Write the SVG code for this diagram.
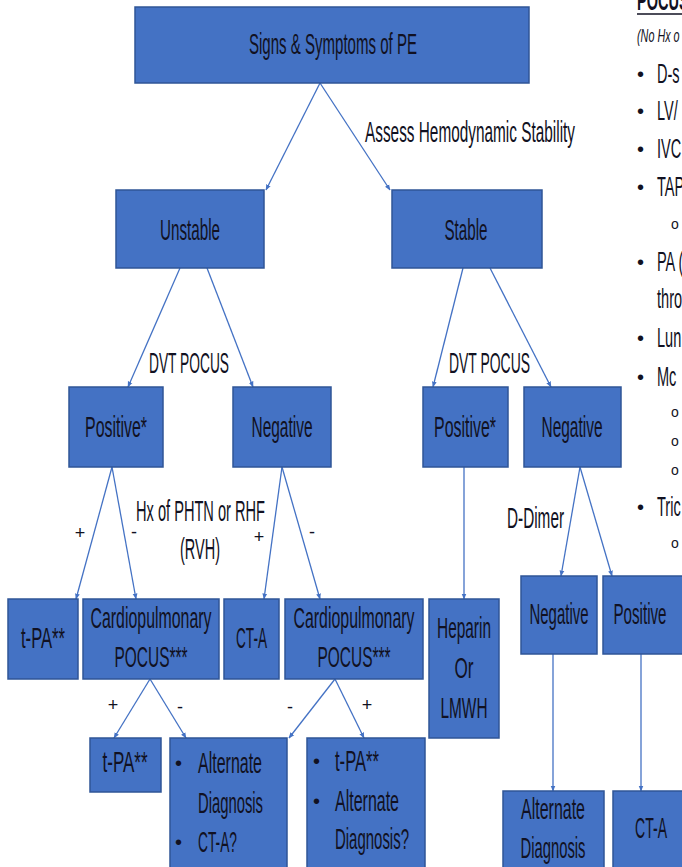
<svg xmlns="http://www.w3.org/2000/svg" width="682" height="867" viewBox="0 0 682 867">
<defs>
<style>
.box{fill:#4472C4;stroke:#2F5597;stroke-width:1.5}
.t{font-family:"Liberation Sans",Arial,sans-serif;font-size:30px;fill:#111122;text-anchor:middle}
.tl{font-family:"Liberation Sans",Arial,sans-serif;font-size:29px;fill:#111122;text-anchor:start}
.sm{font-family:"Liberation Sans",Arial,sans-serif;font-size:18px;fill:#111122;text-anchor:middle}
.rc{font-family:"Liberation Sans",Arial,sans-serif;font-size:28px;fill:#111122}
.it{font-family:"Liberation Sans",Arial,sans-serif;font-size:18px;font-style:italic;fill:#111122}
.bul{font-family:"Liberation Sans",Arial,sans-serif;font-size:20px;fill:#111122}
.sub{font-family:"Liberation Sans",Arial,sans-serif;font-size:14px;fill:#111122}
.c{stroke:#4472C4;stroke-width:1.3;fill:none;marker-end:url(#ah)}
</style>
<marker id="ah" viewBox="0 0 10 10" refX="9" refY="5" markerWidth="6" markerHeight="6" orient="auto" markerUnits="userSpaceOnUse">
<path d="M0,1 L10,5 L0,9 z" fill="#4472C4"/>
</marker>
</defs>
<rect width="682" height="867" fill="#ffffff"/>

<g id="connectors">
<line class="c" x1="320" y1="83" x2="266" y2="190"/>
<line class="c" x1="320" y1="83" x2="390" y2="190"/>
<line class="c" x1="180" y1="268" x2="128" y2="387"/>
<line class="c" x1="207" y1="268" x2="253" y2="387"/>
<line class="c" x1="463" y1="268" x2="433" y2="387"/>
<line class="c" x1="490" y1="268" x2="551" y2="387"/>
<line class="c" x1="112" y1="467" x2="76" y2="599"/>
<line class="c" x1="112" y1="467" x2="136" y2="599"/>
<line class="c" x1="282" y1="467" x2="264" y2="599"/>
<line class="c" x1="282" y1="467" x2="320" y2="599"/>
<line class="c" x1="464" y1="467" x2="464" y2="599"/>
<line class="c" x1="580" y1="467" x2="561" y2="576"/>
<line class="c" x1="580" y1="467" x2="612" y2="576"/>
<line class="c" x1="150" y1="679" x2="114" y2="738"/>
<line class="c" x1="150" y1="679" x2="186" y2="738"/>
<line class="c" x1="335" y1="679" x2="289" y2="738"/>
<line class="c" x1="335" y1="679" x2="364" y2="738"/>
<line class="c" x1="553" y1="654" x2="553" y2="791"/>
<line class="c" x1="641" y1="654" x2="641" y2="791"/>
</g>

<g id="labels">
<text class="tl" x="365" y="142" textLength="210" lengthAdjust="spacingAndGlyphs">Assess Hemodynamic Stability</text>
<text class="tl" x="149" y="373" textLength="80" lengthAdjust="spacingAndGlyphs">DVT POCUS</text>
<text class="tl" x="449" y="373" textLength="81" lengthAdjust="spacingAndGlyphs">DVT POCUS</text>
<text class="sm" x="80" y="539">+</text>
<text class="sm" x="134" y="538">-</text>
<text class="tl" x="136" y="521" textLength="129" lengthAdjust="spacingAndGlyphs">Hx of PHTN or RHF</text>
<text class="tl" x="180" y="559" textLength="40" lengthAdjust="spacingAndGlyphs">(RVH)</text>
<text class="sm" x="259" y="543">+</text>
<text class="sm" x="312" y="538">-</text>
<text class="tl" x="507" y="528" textLength="57" lengthAdjust="spacingAndGlyphs">D-Dimer</text>
<text class="sm" x="113" y="711">+</text>
<text class="sm" x="180" y="713">-</text>
<text class="sm" x="290" y="713">-</text>
<text class="sm" x="367" y="711">+</text>
</g>

<g id="n-top">
<rect class="box" x="135" y="7" width="394" height="76"/>
<text class="t" x="333" y="54" textLength="168" lengthAdjust="spacingAndGlyphs">Signs &amp; Symptoms of PE</text>
</g>
<g id="n-unstable">
<rect class="box" x="116" y="190" width="148" height="78"/>
<text class="t" x="190" y="240" textLength="60" lengthAdjust="spacingAndGlyphs">Unstable</text>
</g>
<g id="n-stable">
<rect class="box" x="392" y="190" width="150" height="78"/>
<text class="t" x="466" y="240" textLength="43" lengthAdjust="spacingAndGlyphs">Stable</text>
</g>
<g id="n-pos1">
<rect class="box" x="69" y="387" width="94" height="80"/>
<text class="t" x="116" y="437" textLength="62" lengthAdjust="spacingAndGlyphs">Positive*</text>
</g>
<g id="n-neg1">
<rect class="box" x="233" y="387" width="98" height="80"/>
<text class="t" x="282" y="437" textLength="61" lengthAdjust="spacingAndGlyphs">Negative</text>
</g>
<g id="n-pos2">
<rect class="box" x="423" y="387" width="85" height="80"/>
<text class="t" x="465" y="437" textLength="62" lengthAdjust="spacingAndGlyphs">Positive*</text>
</g>
<g id="n-neg2">
<rect class="box" x="524" y="387" width="97" height="80"/>
<text class="t" x="572" y="437" textLength="61" lengthAdjust="spacingAndGlyphs">Negative</text>
</g>
<g id="n-tpa1">
<rect class="box" x="8" y="599" width="70" height="80"/>
<text class="t" x="43" y="648" textLength="44" lengthAdjust="spacingAndGlyphs">t-PA**</text>
</g>
<g id="n-cardio1">
<rect class="box" x="83" y="599" width="136" height="80"/>
<text class="t" x="151" y="628" textLength="121" lengthAdjust="spacingAndGlyphs">Cardiopulmonary</text>
<text class="t" x="151" y="667" textLength="73" lengthAdjust="spacingAndGlyphs">POCUS***</text>
</g>
<g id="n-cta1">
<rect class="box" x="224" y="599" width="55" height="80"/>
<text class="t" x="251.5" y="648" textLength="31" lengthAdjust="spacingAndGlyphs">CT-A</text>
</g>
<g id="n-cardio2">
<rect class="box" x="285" y="599" width="138" height="80"/>
<text class="t" x="354" y="628" textLength="121" lengthAdjust="spacingAndGlyphs">Cardiopulmonary</text>
<text class="t" x="354" y="667" textLength="73" lengthAdjust="spacingAndGlyphs">POCUS***</text>
</g>
<g id="n-heparin">
<rect class="box" x="429" y="599" width="70" height="139"/>
<text class="t" x="464" y="638" textLength="54" lengthAdjust="spacingAndGlyphs">Heparin</text>
<text class="t" x="464" y="678" textLength="19" lengthAdjust="spacingAndGlyphs">Or</text>
<text class="t" x="464" y="718" textLength="47" lengthAdjust="spacingAndGlyphs">LMWH</text>
</g>
<g id="n-neg3">
<rect class="box" x="521" y="576" width="76" height="78"/>
<text class="t" x="559" y="624" textLength="59" lengthAdjust="spacingAndGlyphs">Negative</text>
</g>
<g id="n-pos3">
<rect class="box" x="603" y="576" width="85" height="78"/>
<text class="t" x="640" y="624" textLength="53" lengthAdjust="spacingAndGlyphs">Positive</text>
</g>
<g id="n-tpa2">
<rect class="box" x="90" y="738" width="71" height="54"/>
<text class="t" x="125" y="772" textLength="45" lengthAdjust="spacingAndGlyphs">t-PA**</text>
</g>
<g id="n-alt1">
<rect class="box" x="170" y="738" width="117" height="135"/>
<text class="bul" x="175" y="770">•</text>
<text class="tl" x="198" y="773" textLength="64" lengthAdjust="spacingAndGlyphs">Alternate</text>
<text class="tl" x="198" y="813" textLength="65" lengthAdjust="spacingAndGlyphs">Diagnosis</text>
<text class="bul" x="175" y="849">•</text>
<text class="tl" x="198" y="852" textLength="39" lengthAdjust="spacingAndGlyphs">CT-A?</text>
</g>
<g id="n-tpa3">
<rect class="box" x="307" y="738" width="118" height="135"/>
<text class="bul" x="313" y="768">•</text>
<text class="tl" x="335" y="771" textLength="44" lengthAdjust="spacingAndGlyphs">t-PA**</text>
<text class="bul" x="313" y="808">•</text>
<text class="tl" x="335" y="811" textLength="64" lengthAdjust="spacingAndGlyphs">Alternate</text>
<text class="tl" x="335" y="849" textLength="74" lengthAdjust="spacingAndGlyphs">Diagnosis?</text>
</g>
<g id="n-alt2">
<rect class="box" x="503" y="791" width="101" height="80"/>
<text class="t" x="553" y="819" textLength="64" lengthAdjust="spacingAndGlyphs">Alternate</text>
<text class="t" x="553" y="858" textLength="65" lengthAdjust="spacingAndGlyphs">Diagnosis</text>
</g>
<g id="n-cta2">
<rect class="box" x="613" y="791" width="75" height="80"/>
<text class="t" x="651" y="838" textLength="32" lengthAdjust="spacingAndGlyphs">CT-A</text>
</g>

<g id="pocus-list">
<text class="rc" font-weight="bold" transform="translate(637,10) scale(0.52,1)">POCUS</text>
<line x1="637" y1="14" x2="682" y2="14" stroke="#111122" stroke-width="1.5"/>
<text class="it" transform="translate(637,42) scale(0.6,1)">(No Hx o</text>
<text class="bul" x="637" y="81">•</text>
<text class="rc" transform="translate(657,83) scale(0.52,1)">D-s</text>
<text class="bul" x="637" y="118">•</text>
<text class="rc" transform="translate(657,120) scale(0.52,1)">LV/</text>
<text class="bul" x="637" y="156">•</text>
<text class="rc" transform="translate(657,158) scale(0.52,1)">IVC</text>
<text class="bul" x="637" y="194">•</text>
<text class="rc" transform="translate(657,196) scale(0.52,1)">TAP</text>
<text class="sub" x="671" y="229">o</text>
<text class="bul" x="637" y="269">•</text>
<text class="rc" transform="translate(657,271) scale(0.52,1)">PA (</text>
<text class="rc" transform="translate(657,308) scale(0.52,1)">thro</text>
<text class="bul" x="637" y="345">•</text>
<text class="rc" transform="translate(657,347) scale(0.52,1)">Lun</text>
<text class="bul" x="637" y="384">•</text>
<text class="rc" transform="translate(657,386) scale(0.52,1)">Mc</text>
<text class="sub" x="671" y="417">o</text>
<text class="sub" x="671" y="446">o</text>
<text class="sub" x="671" y="475">o</text>
<text class="bul" x="637" y="514">•</text>
<text class="rc" transform="translate(657,516) scale(0.52,1)">Tric</text>
<text class="sub" x="671" y="548">o</text>
</g>
</svg>
